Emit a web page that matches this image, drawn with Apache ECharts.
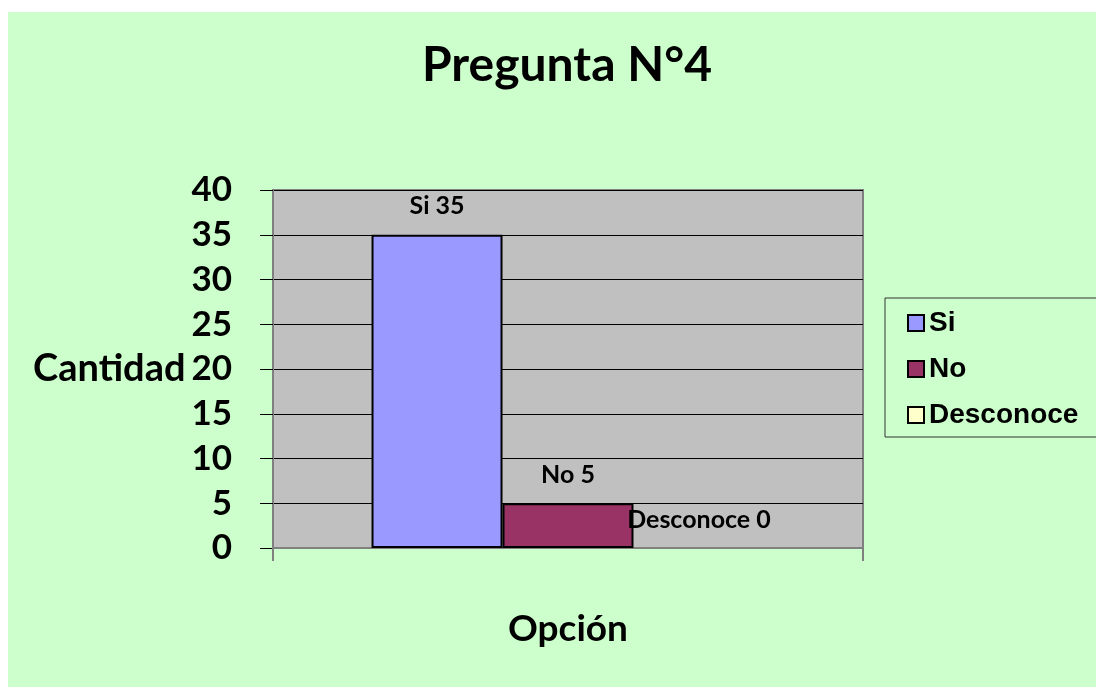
<!DOCTYPE html>
<html>
<head>
<meta charset="utf-8">
<script src="https://cdn.jsdelivr.net/npm/echarts@6/dist/echarts.min.js"></script>
<style>html,body{margin:0;padding:0;background:#fff}#c{width:1096px;height:687px}</style>
</head>
<body>
<div id="c"></div>
<script>
const titleText = 'Pregunta N°4';
const categories = ['Opción'];
const seriesNames = ['Si', 'No', 'Desconoce'];
const siValues = [35];
const noValues = [5];
const desconoceValues = [0];
const colors = ['#9999FF', '#993366', '#FFFFCC'];
const yMin = 0, yMax = 40, yInterval = 5;

const chart = echarts.init(document.getElementById('c'), null, {renderer: 'canvas'});
const fontLato = 'Lato';
const valuesList = [siValues, noValues, desconoceValues];
const series = seriesNames.map((name, i) => ({
  name: name,
  type: 'bar',
  data: valuesList[i],
  barGap: '0%',
  barCategoryGap: '33.4%',
  itemStyle: {color: colors[i], borderColor: '#000', borderWidth: valuesList[i][0] === 0 ? 0 : 2},
  label: {
    show: true, position: 'top', distance: 16,
    formatter: '{a} {c}',
    color: '#000', fontFamily: fontLato, fontWeight: 'bold', fontSize: 25
  }
}));

chart.setOption({
  backgroundColor: '#ffffff',
  animation: false,
  graphic: [{
    type: 'rect', z: -100, silent: true,
    shape: {x: 8, y: 12, width: 1088, height: 675},
    style: {fill: '#CCFFCC'}
  }],
  title: {
    text: titleText,
    left: 562, top: 37, textAlign: 'center',
    textStyle: {fontFamily: fontLato, fontWeight: 'bold', fontSize: 48, color: '#000'}
  },
  legend: {
    orient: 'vertical',
    left: 885, top: 298,
    padding: [11, 300, 8, 22],
    itemGap: 18,
    itemWidth: 16, itemHeight: 16,
    icon: 'rect',
    borderColor: '#333', borderWidth: 1,
    itemStyle: {borderColor: '#000', borderWidth: 2},
    textStyle: {fontFamily: 'Liberation Sans', fontWeight: 'bold', fontSize: 28, color: '#000'},
    data: seriesNames
  },
  grid: {
    left: 273, right: 233, top: 190, bottom: 139,
    show: true, backgroundColor: '#C0C0C0', borderColor: '#808080', borderWidth: 2
  },
  xAxis: {
    type: 'category',
    data: categories,
    name: 'Opción',
    nameLocation: 'middle',
    nameGap: 63,
    nameTextStyle: {fontFamily: fontLato, fontWeight: 'bold', fontSize: 37, color: '#000'},
    axisLine: {lineStyle: {color: '#808080', width: 2}},
    axisTick: {show: true, length: 13, lineStyle: {color: '#808080', width: 2}},
    axisLabel: {show: false}
  },
  yAxis: {
    type: 'value',
    min: yMin, max: yMax, interval: yInterval,
    name: 'Cantidad',
    nameLocation: 'middle',
    nameRotate: 0,
    nameGap: 72,
    nameTextStyle: {fontFamily: fontLato, fontWeight: 'bold', fontSize: 38, color: '#000', padding: [0, 0, 14, 0]},
    axisLine: {show: true, lineStyle: {color: '#808080', width: 2}},
    axisTick: {show: true, length: 13, lineStyle: {color: '#000', width: 1}},
    axisLabel: {margin: 41, fontFamily: fontLato, fontWeight: 'bold', fontSize: 35, color: '#000'},
    splitLine: {show: true, lineStyle: {color: '#000', width: 1}}
  },
  series: series
});
</script>
</body>
</html>
